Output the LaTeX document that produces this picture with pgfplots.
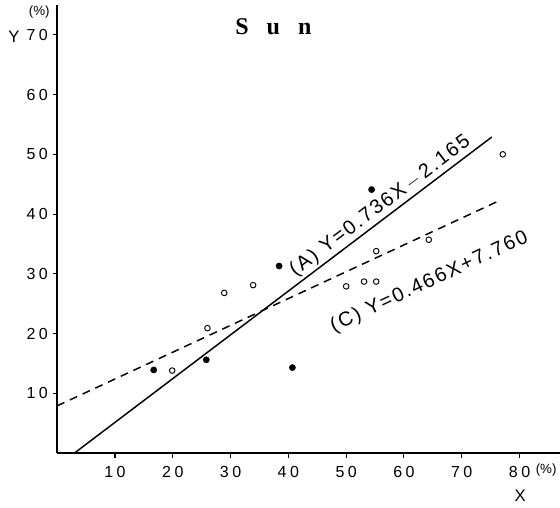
\documentclass[border=0pt]{standalone}
\usepackage{fontspec}
\setmainfont{Liberation Sans}
\newfontfamily\tickfont[LetterSpace=22]{Liberation Sans}
\newfontfamily\eqfont[LetterSpace=10]{Liberation Sans}
\newfontfamily\titlefont{Liberation Serif}
\usepackage{pgfplots}
\pgfplotsset{compat=1.18}

% filled dots
\pgfplotstableread{
x y
16.7 13.9
25.8 15.6
38.4 31.3
40.7 14.3
54.4 44.1
}\filledpts

% open circles
\pgfplotstableread{
x y
19.9 13.8
26.0 20.9
28.9 26.8
33.9 28.1
50.0 27.9
53.1 28.7
55.2 28.7
55.2 33.8
64.3 35.7
77.1 50.0
}\openpts

\begin{document}
\begin{tikzpicture}
\begin{axis}[
  at={(0,0)}, anchor=south west,
  scale only axis, width=377.1pt, height=336pt,
  xmin=0, xmax=87, ymin=0, ymax=75,
  axis lines=left,
  axis line style={-, line width=1.3pt},
  xtick={10,20,...,80}, ytick={10,20,...,70},
  tick align=outside, major tick length=3.5pt,
  tick style={line width=0.8pt, black},
  ticklabel style={font=\tickfont\fontsize{12}{14}\selectfont},
  xticklabel style={yshift=-3pt},
  /pgf/number format/assume math mode=true,
  clip=false,
]
  \addplot[black, line width=1.1pt] coordinates {(3.0,0) (75.2,52.9)};
  \addplot[black, line width=1.1pt, dash pattern=on 6pt off 4.5pt] coordinates {(0,7.9) (76.4,42.2)};
  \addplot[only marks, mark=*, mark size=2.3pt, black] table {\filledpts};
  \addplot[only marks, mark=o, mark size=2.1pt, mark options={line width=0.7pt}, black] table {\openpts};

  \node[font=\eqfont\fontsize{15}{17}\selectfont, rotate=37] at (axis cs:55.9,41.3) {(A) Y=0.736X\,$-$\,2.165};
  \node[font=\eqfont\fontsize{15}{17}\selectfont, rotate=25] at (axis cs:64.4,28.6) {(C) Y=0.466X+7.760};

  \node[font=\titlefont\bfseries\fontsize{18}{20}\selectfont] at (axis cs:37.4,71.3) {S\hspace{0.75em}u\hspace{0.75em}n};
  \node[font=\fontsize{12.5}{14}\selectfont] at (axis cs:-7.5,69.7) {Y};
  \node[font=\fontsize{10}{12}\selectfont] at (axis cs:-3.1,73.9) {(\%)};
  \node[font=\fontsize{10}{12}\selectfont] at (axis cs:84.6,-2.9) {(\%)};
  \node[font=\fontsize{12.5}{14}\selectfont] at (axis cs:80.1,-7.2) {X};
\end{axis}
\pgfresetboundingbox
\path[use as bounding box] (-42.9pt,-40.5pt) rectangle (377.1pt,339.75pt);
\end{tikzpicture}
\end{document}
